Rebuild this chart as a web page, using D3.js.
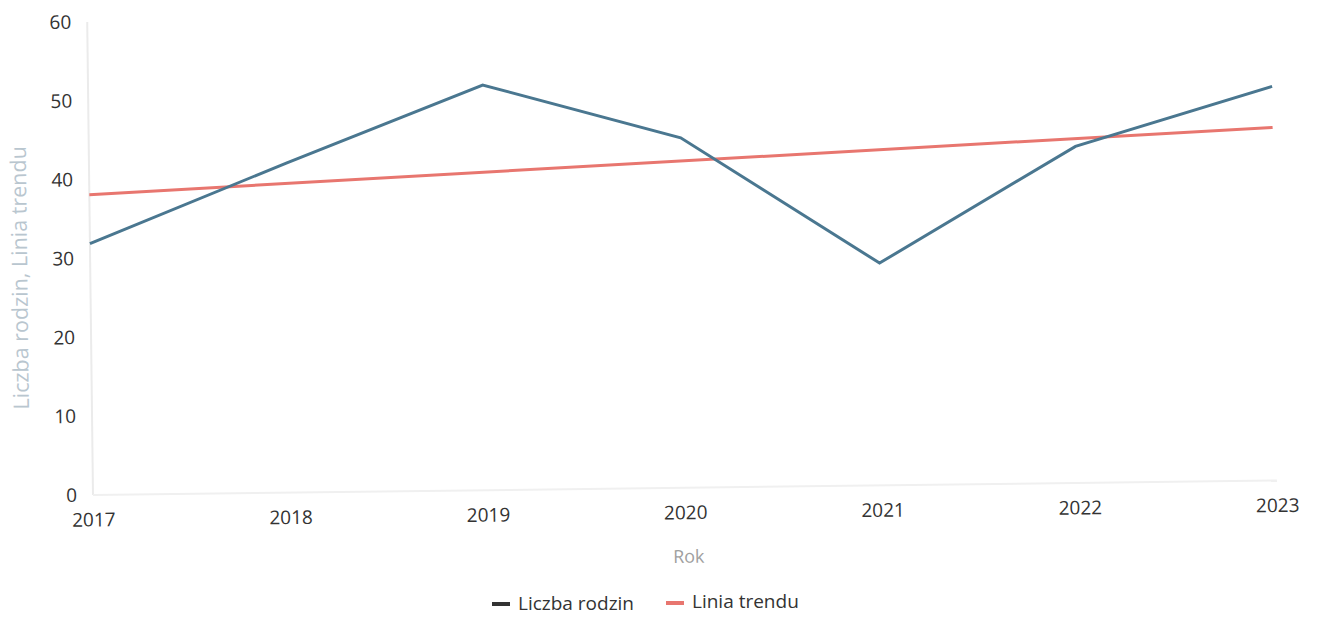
<!DOCTYPE html>
<html>
<head>
<meta charset="utf-8">
<script src="https://cdn.jsdelivr.net/npm/d3@7/dist/d3.min.js"></script>
<style>
  html, body { margin: 0; padding: 0; background: #fff; }
  svg { display: block; font-family: "Open Sans", "Noto Sans", sans-serif; }
</style>
</head>
<body>
<svg id="chart" width="1321" height="617"></svg>
<script>
// ---- data ----
const years = [2017, 2018, 2019, 2020, 2021, 2022, 2023];
const familyCounts = [31.9, 41.8, 51.4, 44.4, 28.2, 42.7, 50.0];
const trendYears = [2017, 2023];
const trendValues = [38.1, 44.8];
const yTicks = [0, 10, 20, 30, 40, 50, 60];
const seriesNames = ["Liczba rodzin", "Linia trendu"];
const yTitle = "Liczba rodzin, Linia trendu";
const xTitle = "Rok";

// ---- layout ----
const x0 = 93, x1 = 1277, yBase = 495, yTop = 22;
const svg = d3.select("#chart");

const x = d3.scaleLinear().domain([2017, 2023]).range([x0, x1]);
const y = d3.scaleLinear().domain([0, 60]).range([yBase, yTop]);

// scanned page is slightly rotated
const g = svg.append("g").attr("transform", `rotate(-0.7, ${x0}, ${yBase})`);

// axis lines
g.append("line").attr("x1", x0).attr("x2", x0).attr("y1", yTop).attr("y2", yBase)
  .attr("stroke", "#ebebeb").attr("stroke-width", 2);
g.append("line").attr("x1", x0).attr("x2", x1).attr("y1", yBase).attr("y2", yBase)
  .attr("stroke", "#f0f0f0").attr("stroke-width", 2);

// y axis tick labels
const yAxis = d3.axisLeft(y).tickValues(yTicks).tickSize(0).tickPadding(16);
const yg = g.append("g").attr("transform", `translate(${x0},0)`).call(yAxis);
yg.select(".domain").remove();
yg.selectAll("text").attr("font-size", 19).attr("fill", "#333")
  .attr("font-family", "'Open Sans', sans-serif");

// x axis tick labels
const xAxis = d3.axisBottom(x).tickValues(years).tickFormat(d3.format("d")).tickSize(0).tickPadding(18);
const xg = g.append("g").attr("transform", `translate(0,${yBase})`).call(xAxis);
xg.select(".domain").remove();
xg.selectAll("text").attr("font-size", 19).attr("fill", "#333")
  .attr("font-family", "'Open Sans', sans-serif");

// axis titles
g.append("text").attr("x", (x0 + x1) / 2 + 3).attr("y", 570)
  .attr("text-anchor", "middle").attr("font-size", 18).attr("fill", "#a0a0a0")
  .text(xTitle);
g.append("text").attr("transform", "translate(30,277) rotate(-90)")
  .attr("text-anchor", "middle").attr("font-size", 21.5).attr("fill", "#b9c6cf")
  .text(yTitle);

// trend line
const trendData = trendYears.map((yr, i) => ({ yr, v: trendValues[i] }));
g.append("path").datum(trendData)
  .attr("fill", "none").attr("stroke", "#e8766f").attr("stroke-width", 3)
  .attr("d", d3.line().x(d => x(d.yr)).y(d => y(d.v)));

// main series
const data = years.map((yr, i) => ({ yr, v: familyCounts[i] }));
g.append("path").datum(data)
  .attr("fill", "none").attr("stroke", "#4a7790").attr("stroke-width", 3)
  .attr("stroke-linejoin", "miter")
  .attr("d", d3.line().x(d => x(d.yr)).y(d => y(d.v)));

// legend
const legendColors = ["#333333", "#e8766f"];
const legendX = [492, 666];
const lg = svg.append("g");
seriesNames.forEach((name, i) => {
  lg.append("rect").attr("x", legendX[i]).attr("y", 602 - i * 1).attr("width", 18).attr("height", 4)
    .attr("fill", legendColors[i]);
  lg.append("text").attr("x", legendX[i] + 26).attr("y", 610 - i * 2)
    .attr("font-size", 19).attr("fill", "#333").text(name);
});
</script>
</body>
</html>
